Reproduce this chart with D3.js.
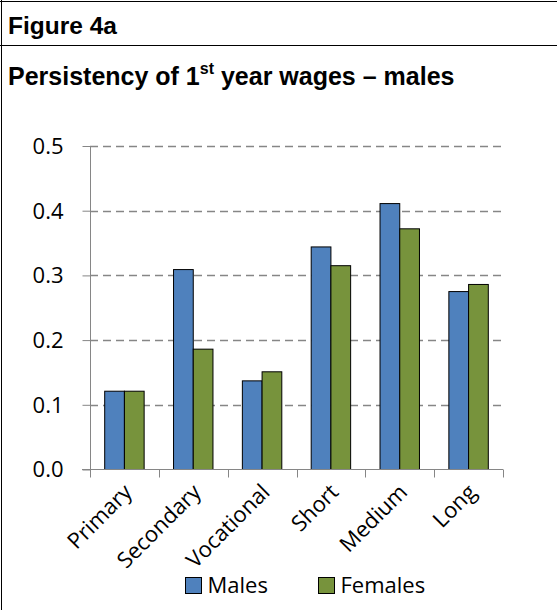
<!DOCTYPE html>
<html>
<head>
<meta charset="utf-8">
<script src="https://cdn.jsdelivr.net/npm/d3@7/dist/d3.min.js"></script>
<style>
  html, body { margin: 0; padding: 0; background: #fff; }
  svg { display: block; }
</style>
</head>
<body>
<svg id="chart" width="557" height="610"></svg>
<script>
// Education levels on the x axis
const categories = ["Primary", "Secondary", "Vocational", "Short", "Medium", "Long"];
// Persistency coefficients by gender
const males   = [0.121, 0.309, 0.137, 0.344, 0.411, 0.275];
const females = [0.121, 0.186, 0.151, 0.315, 0.372, 0.286];
const seriesNames = ["Males", "Females"];
const yTicks = [0.0, 0.1, 0.2, 0.3, 0.4, 0.5];

const colors = ["#4F81BD", "#77933C"];
const series = [males, females];

const svg = d3.select("#chart");
const W = 557, H = 610;

// Frame lines
svg.append("line").attr("x1", 1.5).attr("x2", 1.5).attr("y1", 0).attr("y2", H)
  .attr("stroke", "#000").attr("stroke-width", 1);
svg.append("line").attr("x1", 0).attr("x2", W).attr("y1", 1.5).attr("y2", 1.5)
  .attr("stroke", "#000").attr("stroke-width", 1);
svg.append("line").attr("x1", 0).attr("x2", W).attr("y1", 45.5).attr("y2", 45.5)
  .attr("stroke", "#000").attr("stroke-width", 1);

// Headings
const headFont = "'Liberation Sans', Arial, sans-serif";
svg.append("text").attr("x", 8).attr("y", 34)
  .attr("font-family", headFont)
  .attr("font-weight", "bold").attr("font-size", 24.5)
  .text("Figure 4a");

const title = svg.append("text").attr("x", 8).attr("y", 85)
  .attr("font-family", headFont)
  .attr("font-weight", "bold").attr("font-size", 25);
title.append("tspan").text("Persistency of 1");
title.append("tspan").attr("dy", -11).attr("font-size", 16).text("st");
title.append("tspan").attr("dy", 11).text(" year wages \u2013 males");

// Scales
const x0 = d3.scaleBand().domain(categories).range([90, 503]).paddingInner(0).paddingOuter(0);
const y = d3.scaleLinear().domain([0, 0.5]).range([469.5, 146]);
const bw = x0.bandwidth();
const barW = bw * 0.2865;
const x1 = d3.scaleBand().domain(seriesNames).range([0, barW * 2]);

const axisFont = "'Open Sans', Lato, sans-serif";
const axisSize = 22;

// Dashed gridlines
svg.append("g").selectAll("line").data(yTicks.filter(d => d > 0)).join("line")
  .attr("x1", 90).attr("x2", 503)
  .attr("y1", d => Math.round(y(d)) + 0.5).attr("y2", d => Math.round(y(d)) + 0.5)
  .attr("stroke", "#868686").attr("stroke-width", 1.4)
  .attr("stroke-dasharray", "8,5");

// Y axis
const yAxis = d3.axisLeft(y).tickValues(yTicks).tickFormat(d3.format(".1f")).tickSize(8).tickPadding(19);
const gy = svg.append("g").attr("transform", "translate(90.5,0)").call(yAxis);
gy.select(".domain").attr("stroke", "#868686").attr("d", `M0,${y(0.5)}V${y(0)}`);
gy.selectAll(".tick line").attr("stroke", "#868686");
gy.selectAll(".tick text").attr("font-family", axisFont).attr("font-size", axisSize)
  .attr("fill", "#000").attr("dy", "0.34em");

// Bars
const groups = svg.append("g").selectAll("g").data(categories).join("g")
  .attr("transform", d => `translate(${x0(d) + (bw - barW * 2) / 2},0)`);
groups.selectAll("rect")
  .data((c, i) => seriesNames.map((s, j) => ({ s, v: series[j][i], j })))
  .join("rect")
  .attr("x", d => x1(d.s))
  .attr("y", d => y(d.v))
  .attr("width", barW)
  .attr("height", d => y(0) - y(d.v))
  .attr("fill", d => colors[d.j])
  .attr("stroke", "#000").attr("stroke-width", 1);

// X axis
const xAxis = d3.axisBottom(x0).tickSize(0).tickFormat("");
const gx = svg.append("g").attr("transform", `translate(0,${y(0)})`).call(xAxis);
gx.select(".domain").attr("stroke", "#868686").attr("d", "M82,0H503");
// Category boundary ticks
gx.selectAll(".bound").data(categories.map(c => x0(c)).concat([503])).join("line")
  .attr("class", "bound")
  .attr("x1", d => Math.round(d) + 0.5).attr("x2", d => Math.round(d) + 0.5)
  .attr("y1", 0).attr("y2", 8)
  .attr("stroke", "#868686");

// Rotated category labels
svg.append("g").selectAll("text").data(categories).join("text")
  .attr("transform", d => `translate(${x0(d) + bw / 2 + 9},${y(0) + 24}) rotate(-45)`)
  .attr("text-anchor", "end")
  .attr("font-family", axisFont).attr("font-size", axisSize)
  .attr("fill", "#000")
  .text(d => d);

// Legend
const legend = svg.append("g").selectAll("g").data(seriesNames).join("g")
  .attr("transform", (d, i) => `translate(${[185.5, 318.5][i]},577.5)`);
legend.append("rect").attr("width", 16).attr("height", 16)
  .attr("fill", (d, i) => colors[i]).attr("stroke", "#000");
legend.append("text").attr("x", 22).attr("y", 15.5)
  .attr("font-family", axisFont).attr("font-size", axisSize)
  .text(d => d);
</script>
</body>
</html>
